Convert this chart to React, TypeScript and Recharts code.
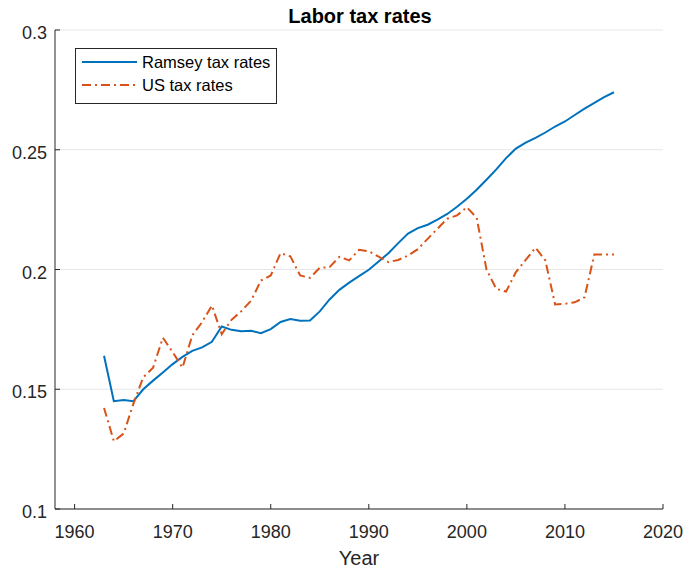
import React from 'react';
import { LineChart, Line, XAxis, YAxis, CartesianGrid, Legend } from 'recharts';

const years = [
  1963, 1964, 1965, 1966, 1967, 1968, 1969, 1970, 1971, 1972, 1973, 1974, 1975, 1976, 1977, 1978, 1979,
  1980, 1981, 1982, 1983, 1984, 1985, 1986, 1987, 1988, 1989, 1990, 1991, 1992, 1993, 1994, 1995, 1996,
  1997, 1998, 1999, 2000, 2001, 2002, 2003, 2004, 2005, 2006, 2007, 2008, 2009, 2010, 2011, 2012, 2013,
  2014, 2015,
];

const ramseyRates = [
  0.164, 0.145, 0.1455, 0.145, 0.15, 0.1536, 0.157, 0.1605, 0.1635, 0.166, 0.1675, 0.1698, 0.1762, 0.1748,
  0.1742, 0.1744, 0.1734, 0.1751, 0.1781, 0.1793, 0.1786, 0.1787, 0.1825, 0.1875, 0.1915, 0.1945, 0.1972,
  0.1999, 0.2033, 0.2068, 0.211, 0.215, 0.2173, 0.2187, 0.2208, 0.2232, 0.2262, 0.2295, 0.2333, 0.2375,
  0.2418, 0.2465, 0.2505, 0.253, 0.255, 0.2572, 0.2597, 0.2618, 0.2645, 0.2672, 0.2696, 0.272, 0.274,
];

const usRates = [
  0.1422, 0.1283, 0.1315, 0.144, 0.155, 0.159, 0.1715, 0.1655, 0.159, 0.1725, 0.178, 0.185, 0.173, 0.179,
  0.1826, 0.187, 0.1954, 0.1975, 0.2068, 0.2055, 0.1975, 0.1965, 0.2007, 0.201, 0.2053, 0.2038, 0.2082,
  0.2076, 0.2054, 0.2031, 0.204, 0.2058, 0.2085, 0.2128, 0.217, 0.2212, 0.2226, 0.226, 0.2216, 0.2, 0.1919,
  0.1908, 0.1989, 0.204, 0.2091, 0.2038, 0.1854, 0.1857, 0.1863, 0.1884, 0.2063, 0.2063, 0.2063,
];

const xTicks = [1960, 1970, 1980, 1990, 2000, 2010, 2020];
const yTicks = [0.1, 0.15, 0.2, 0.25, 0.3];

const seriesNames = { ramsey: 'Ramsey tax rates', us: 'US tax rates' };

const data = years.map((year, i) => ({ year, ramsey: ramseyRates[i], us: usRates[i] }));

const FONT = '"Liberation Sans", Arial, Helvetica, sans-serif';
const AXIS = '#262626';
const BLUE = '#0072BD';
const ORANGE = '#D95319';
const DASH = '9 4 2 4';

const Y_MARGIN = 8;
const X_MARGIN = 16;

const YTick = (props: any) => {
  const { x, y, payload } = props;
  const ax = x + Y_MARGIN;
  return (
    <g>
      <line x1={ax} x2={ax + 5} y1={y} y2={y} stroke={AXIS} strokeWidth={1} />
      <text x={x} y={y} dy={9} textAnchor="end" fill={AXIS} fontSize={18} fontFamily={FONT}>
        {String(payload.value)}
      </text>
    </g>
  );
};

const XTick = (props: any) => {
  const { x, y, payload } = props;
  const ay = y - X_MARGIN;
  return (
    <g>
      <line x1={x} x2={x} y1={ay} y2={ay - 5} stroke={AXIS} strokeWidth={1} />
      <text x={x} y={y} dy="0.71em" textAnchor="middle" fill={AXIS} fontSize={18} fontFamily={FONT}>
        {String(payload.value)}
      </text>
    </g>
  );
};

const LegendBox = (props: any) => {
  const items = props.payload || [];
  return (
    <div
      style={{
        width: 200,
        height: 52,
        border: `1px solid ${AXIS}`,
        background: '#fff',
        fontFamily: FONT,
        fontSize: 16.5,
        color: '#000',
        boxSizing: 'content-box',
        paddingTop: 2,
      }}
    >
      {items.map((it: any) => (
        <div key={it.value} style={{ display: 'flex', alignItems: 'center', height: 22.5 }}>
          <svg width={66} height={10} style={{ display: 'block' }}>
            <line
              x1={6}
              x2={61}
              y1={5}
              y2={5}
              stroke={it.color}
              strokeWidth={2}
              strokeDasharray={it.dataKey === 'us' ? DASH : undefined}
            />
          </svg>
          <span style={{ lineHeight: '22px' }}>{it.value}</span>
        </div>
      ))}
    </div>
  );
};

export default function App() {
  return (
    <div style={{ position: 'absolute', left: 0, top: 0, width: 686, height: 573, background: '#fff' }}>
      <LineChart width={686} height={573} data={data} margin={{ top: 30, right: 23, left: 0, bottom: 0 }}>
        <CartesianGrid vertical={false} stroke="#e6e6e6" strokeWidth={1} />
        <XAxis
          dataKey="year"
          type="number"
          domain={[1958, 2020]}
          ticks={xTicks}
          allowDataOverflow
          height={64}
          tickSize={0}
          tickMargin={X_MARGIN}
          tickLine={false}
          axisLine={{ stroke: AXIS, strokeWidth: 1 }}
          tick={<XTick />}
          interval={0}
          label={{
            value: 'Year',
            position: 'insideBottom',
            offset: 8,
            fill: AXIS,
            fontSize: 20,
            fontFamily: FONT,
          }}
        />
        <YAxis
          type="number"
          domain={[0.1, 0.3]}
          ticks={yTicks}
          allowDataOverflow
          width={55}
          tickSize={0}
          tickMargin={Y_MARGIN}
          tickLine={false}
          axisLine={{ stroke: AXIS, strokeWidth: 1 }}
          tick={<YTick />}
          interval={0}
        />
        <Legend
          content={<LegendBox />}
          layout="vertical"
          verticalAlign="middle"
          align="center"
          wrapperStyle={{ position: 'absolute', left: 75, top: 48, width: 'auto', height: 'auto' }}
        />
        <Line
          type="linear"
          dataKey="ramsey"
          name={seriesNames.ramsey}
          stroke={BLUE}
          strokeWidth={2}
          dot={false}
          isAnimationActive={false}
        />
        <Line
          type="linear"
          dataKey="us"
          name={seriesNames.us}
          stroke={ORANGE}
          strokeWidth={2}
          strokeDasharray={DASH}
          dot={false}
          isAnimationActive={false}
        />
        <text x={360} y={23} textAnchor="middle" fontWeight="bold" fontSize={20} fontFamily={FONT} fill="#000">
          Labor tax rates
        </text>
      </LineChart>
    </div>
  );
}
